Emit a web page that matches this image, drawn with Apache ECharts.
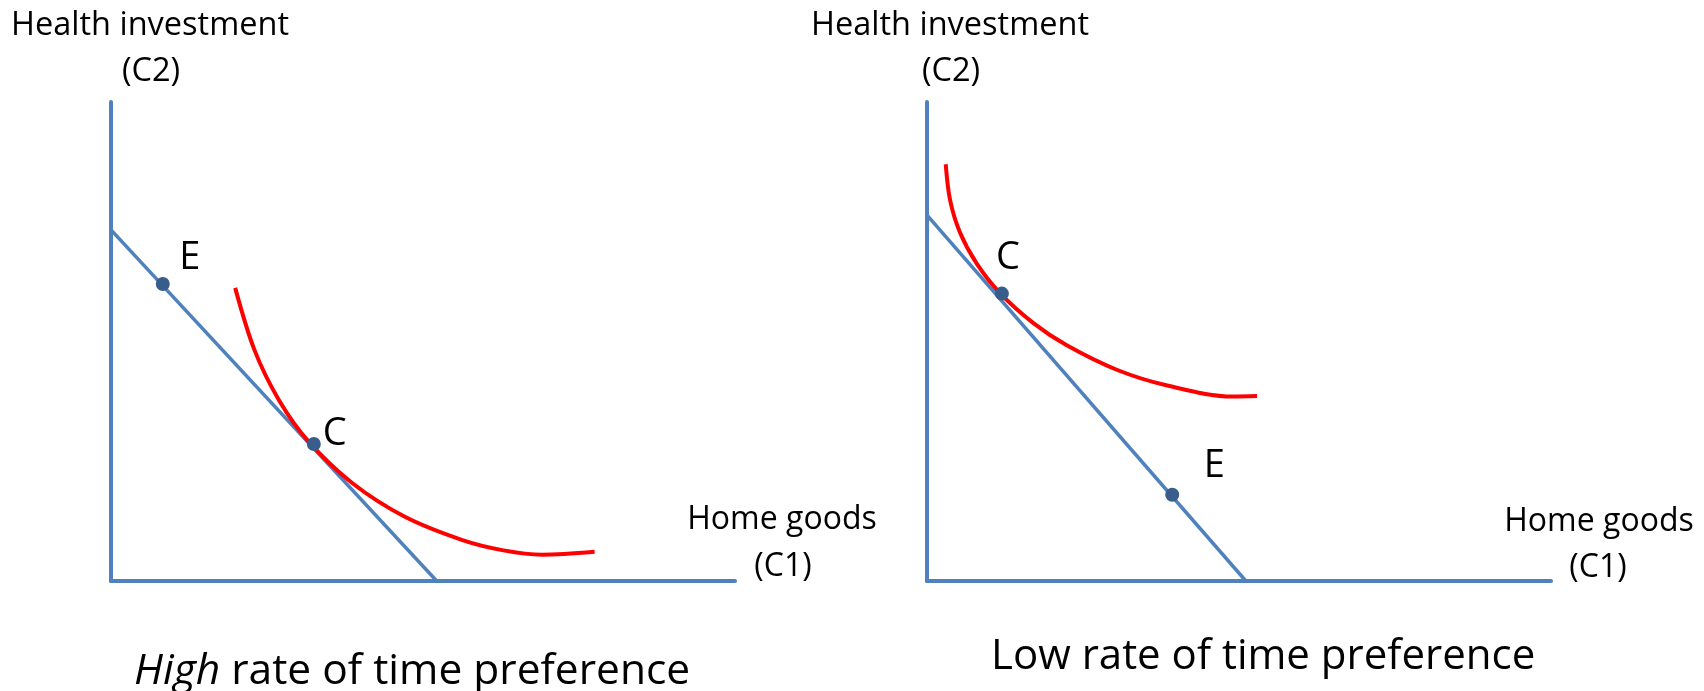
<!DOCTYPE html>
<html>
<head>
<meta charset="utf-8">
<script src="https://cdn.jsdelivr.net/npm/echarts@6/dist/echarts.min.js"></script>
<style>
html,body{margin:0;padding:0;background:#fff;}
#c{width:1704px;height:691px;}
</style>
</head>
<body>
<div id="c"></div>
<script>
// ---- data (axis units 0..100 on each panel) ----
const leftBudget = [[0, 73.3], [52.2, 0]];
const leftCurve = [[19.9,61.2],[23.0,48.2],[26.9,37.8],[31.6,29.2],[38.7,20.4],[47.1,13.4],[56.2,8.6],[62.9,6.4],[69.1,5.5],[77.5,6.1]];
const leftPoints = [{name:'E', value:[8.3, 62.0]}, {name:'C', value:[32.5, 28.6]}];

const rightBudget = [[0, 76.4], [51.1, 0]];
const rightCurve = [[3.0,87.0],[3.7,79.5],[5.3,72.7],[8.0,66.2],[11.7,60.1],[17.0,53.9],[22.4,49.2],[30.4,44.1],[38.5,40.8],[49.0,38.5],[52.9,38.6]];
const rightPoints = [{name:'C', value:[12.0, 60.0]}, {name:'E', value:[39.3, 18.0]}];

const yTitle = ['Health investment', '(C2)'];
const xTitle = ['Home goods', '(C1)'];
const captionLeft = ['High', ' rate of time preference'];
const captionRight = 'Low rate of time preference';

const labelOffsets = {
  left: {E:[27,-26], C:[21,-10]},
  right: {C:[6,-35], E:[42,-29]}
};

const BLUE = '#4F81BD', DOT = '#385D8A', RED = '#FF0000';
const FONT = '"Open Sans", sans-serif';

const chart = echarts.init(document.getElementById('c'));

function axisCommon() {
  return {
    type: 'value', min: 0, max: 100,
    axisLine: {show: true, onZero: false, lineStyle: {color: BLUE, width: 4}},
    axisTick: {show: false}, axisLabel: {show: false}, splitLine: {show: false}
  };
}

function pointSeries(idx, pts, side) {
  return {
    type: 'scatter', xAxisIndex: idx, yAxisIndex: idx, z: 5,
    symbolSize: 14,
    itemStyle: {color: DOT, opacity: 1},
    data: pts.map(p => ({
      name: p.name, value: p.value,
      label: {show: true, position: 'inside', offset: labelOffsets[side][p.name],
        formatter: p.name, fontFamily: FONT, fontSize: 38, color: '#000',
        align: 'center', verticalAlign: 'middle'}
    }))
  };
}

function txt(text, x, y, size, align) {
  return {type: 'text', x: x, y: y, silent: true,
    style: {text: text, fontFamily: FONT, fontSize: size, fill: '#000',
      align: align || 'center', verticalAlign: 'middle'}};
}

chart.setOption({
  animation: false,
  backgroundColor: '#fff',
  grid: [
    {left: 111, top: 102, width: 624, height: 479},
    {left: 927, top: 102, width: 624, height: 479}
  ],
  xAxis: [Object.assign(axisCommon(), {gridIndex: 0}), Object.assign(axisCommon(), {gridIndex: 1})],
  yAxis: [Object.assign(axisCommon(), {gridIndex: 0}), Object.assign(axisCommon(), {gridIndex: 1})],
  series: [
    {type: 'line', xAxisIndex: 0, yAxisIndex: 0, data: leftBudget, showSymbol: false, z: 2,
      lineStyle: {color: BLUE, width: 3.5}},
    {type: 'line', xAxisIndex: 0, yAxisIndex: 0, data: leftCurve, showSymbol: false, z: 3,
      smooth: 0.33, lineStyle: {color: RED, width: 4}},
    pointSeries(0, leftPoints, 'left'),
    {type: 'line', xAxisIndex: 1, yAxisIndex: 1, data: rightBudget, showSymbol: false, z: 2,
      lineStyle: {color: BLUE, width: 3.5}},
    {type: 'line', xAxisIndex: 1, yAxisIndex: 1, data: rightCurve, showSymbol: false, z: 3,
      smooth: 0.33, lineStyle: {color: RED, width: 4}},
    pointSeries(1, rightPoints, 'right')
  ],
  graphic: [
    txt(yTitle[0], 150, 26, 32.5), txt(yTitle[1], 151, 72, 32.5),
    txt(yTitle[0], 950, 26, 32.5), txt(yTitle[1], 951, 72, 32.5),
    txt(xTitle[0], 782, 520, 32), txt(xTitle[1], 783, 567, 32),
    txt(xTitle[0], 1599, 522, 32), txt(xTitle[1], 1598, 568, 32),
    {type: 'text', x: 134, y: 672, silent: true,
      style: {text: '{i|' + captionLeft[0] + '}' + captionLeft[1], fontFamily: FONT, fontSize: 42.5,
        fill: '#000', align: 'left', verticalAlign: 'middle',
        rich: {i: {fontStyle: 'italic', fontFamily: FONT, fontSize: 42.5, fill: '#000'}}}},
    txt(captionRight, 991, 657, 42, 'left')
  ]
});
</script>
</body>
</html>
